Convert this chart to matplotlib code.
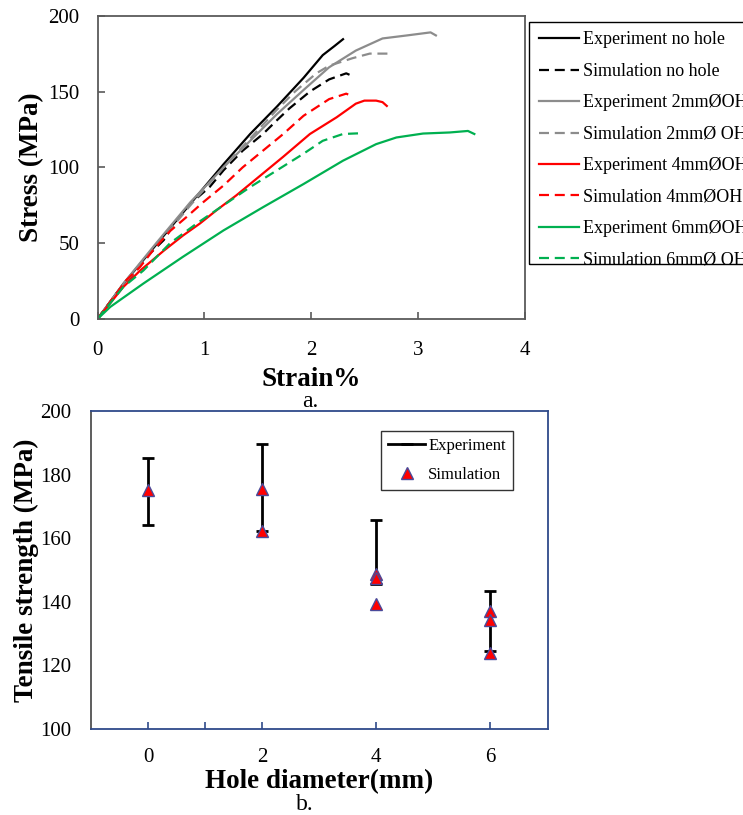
import matplotlib
matplotlib.use("Agg")
import matplotlib.pyplot as plt
from matplotlib.lines import Line2D
from matplotlib.patches import Rectangle

plt.rcParams['font.family'] = ['Liberation Serif', 'DejaVu Serif']

# ---- (a) stress-strain curves ----
exp_nohole_strain = [0, 0.24, 0.55, 0.87, 1.18, 1.43, 1.68, 1.93, 2.11, 2.22, 2.30]
exp_nohole_stress = [0, 23, 49, 76, 102, 122, 140, 159, 174, 180, 184.5]

sim_nohole_strain = [0, 0.18, 0.34, 0.46, 0.62, 0.74, 0.87, 1.05, 1.18, 1.36, 1.55, 1.68, 1.80, 1.99, 2.17, 2.33, 2.41]
sim_nohole_stress = [0, 17, 30, 41, 52, 65, 76, 87, 98, 111, 122, 131, 139, 150, 158, 162, 159.5]

exp_2mm_strain = [0, 0.25, 0.55, 0.87, 1.18, 1.43, 1.68, 1.93, 2.17, 2.42, 2.67, 2.90, 3.12, 3.17]
exp_2mm_stress = [0, 24, 50, 77, 100, 117.5, 135, 151, 166, 177, 185, 187, 189, 187]

sim_2mm_strain = [0, 0.25, 0.55, 0.87, 1.18, 1.43, 1.68, 1.85, 2.05, 2.17, 2.39, 2.55, 2.75]
sim_2mm_stress = [0, 23, 48, 75, 100, 119, 138, 150, 162, 167, 172, 175, 175]

exp_4mm_strain = [0, 0.24, 0.40, 0.62, 0.80, 0.96, 1.12, 1.30, 1.55, 1.74, 1.99, 2.24, 2.42, 2.50, 2.61, 2.67, 2.71]
exp_4mm_stress = [0, 21, 32, 45, 55, 63, 72, 81.5, 96, 107, 122, 133, 142, 144, 144, 143, 140.5]

sim_4mm_strain = [0, 0.27, 0.40, 0.52, 0.68, 0.83, 0.99, 1.18, 1.36, 1.55, 1.74, 1.93, 2.17, 2.33, 2.38]
sim_4mm_stress = [0, 25.6, 34.4, 45.3, 58, 67, 77, 88, 100, 111, 122, 134, 145, 148.6, 147]

exp_6mm_strain = [0, 0.12, 0.43, 0.80, 1.18, 1.55, 1.93, 2.30, 2.61, 2.80, 3.05, 3.30, 3.47, 3.53]
exp_6mm_stress = [0, 8, 23.4, 41, 58.4, 73.7, 89, 104.4, 115.3, 119.7, 122.3, 123, 124, 122]

sim_6mm_strain = [0, 0.24, 0.43, 0.68, 0.93, 1.18, 1.43, 1.68, 1.93, 2.11, 2.30, 2.47]
sim_6mm_stress = [0, 21, 32, 50, 63, 75, 87, 98, 109, 117.5, 122, 122.5]

curve_labels = ["Experiment no hole", "Simulation no hole",
                "Experiment 2mm\u00d8OH", "Simulation 2mm\u00d8 OH",
                "Experiment 4mm\u00d8OH", "Simulation 4mm\u00d8OH",
                "Experiment 6mm\u00d8OH", "Simulation 6mm\u00d8 OH"]

# ---- (b) tensile strength vs hole diameter ----
hole_diameter = [0, 2, 4, 6]
exp_low = [164.1, 162.3, 145.5, 124.5]
exp_high = [185.3, 189.6, 165.7, 143.4]
sim_x = [0, 2, 2, 4, 4, 4, 6, 6, 6]
sim_strength = [175.0, 175.5, 162.3, 148.6, 147.6, 139.2, 137.2, 134.2, 124.0]

W, H = 743, 815
fig = plt.figure(figsize=(W / 100, H / 100), dpi=100)

LABEL_FS = 19.5
TICK_FS = 15

# top panel
ax1 = fig.add_axes([97.5 / W, 1 - 319 / H, (524.5 - 97.5) / W, (319 - 15.7) / H])
lw = 1.6
dash = (0, (4.5, 2.6))
curves = [
    (exp_nohole_strain, exp_nohole_stress, 'black', '-'),
    (sim_nohole_strain, sim_nohole_stress, 'black', dash),
    (exp_2mm_strain, exp_2mm_stress, '#8c8c8c', '-'),
    (sim_2mm_strain, sim_2mm_stress, '#8c8c8c', dash),
    (exp_4mm_strain, exp_4mm_stress, '#ff0000', '-'),
    (sim_4mm_strain, sim_4mm_stress, '#ff0000', dash),
    (exp_6mm_strain, exp_6mm_stress, '#00b050', '-'),
    (sim_6mm_strain, sim_6mm_stress, '#00b050', dash),
]
handles = []
for (xs, ys, c, ls), lab in zip(curves, curve_labels):
    h, = ax1.plot(xs, ys, color=c, linestyle=ls, linewidth=lw, label=lab)
    handles.append(h)

ax1.set_xlim(0, 4)
ax1.set_ylim(0, 200)
ax1.set_xticks([0, 1, 2, 3, 4])
ax1.set_yticks([0, 50, 100, 150, 200])
for s in ax1.spines.values():
    s.set_color('#5a5a5a')
    s.set_linewidth(1.3)
ax1.tick_params(direction='in', length=5, width=1.2, color='#5a5a5a', labelsize=TICK_FS)
ax1.tick_params(axis='x', pad=16)
ax1.tick_params(axis='y', pad=13)
ax1.set_xlabel("Strain%", fontsize=LABEL_FS, fontweight='bold', labelpad=5)
ax1.set_ylabel("Stress (MPa)", fontsize=LABEL_FS, fontweight='bold', labelpad=3)

# legend box for the curves, sitting to the right of the plot
fig.patches.append(Rectangle((529 / W, 1 - 264.3 / H), (760 - 529) / W, (264.3 - 21.7) / H,
                             transform=fig.transFigure, fill=False,
                             edgecolor='black', linewidth=1.0))
leg1 = fig.legend(handles=handles, loc='upper left',
                  bbox_to_anchor=(539 / W, 1 - 31.5 / H), fontsize=13,
                  frameon=False, handlelength=2.2, handletextpad=0.26,
                  labelspacing=0.80, borderpad=0, borderaxespad=0)

fig.text(310 / W, 1 - 401 / H, "a.", fontsize=17, ha='center', va='center')

# bottom panel
ax2 = fig.add_axes([91 / W, 1 - 729 / H, (547.5 - 91) / W, (729 - 411) / H])
for x, lo, hi in zip(hole_diameter, exp_low, exp_high):
    ax2.errorbar([x], [(lo + hi) / 2], yerr=[[(hi - lo) / 2], [(hi - lo) / 2]],
                 fmt='none', ecolor='black', elinewidth=2.0, capsize=4, capthick=2.0)
ax2.plot(sim_x, sim_strength, linestyle='none', marker='^', markersize=8,
         markerfacecolor='#ff0000', markeredgecolor='#4a4a9a', markeredgewidth=1.0)

ax2.set_xlim(-1, 7)
ax2.set_ylim(100, 200)
ax2.set_yticks([100, 120, 140, 160, 180, 200])
ax2.set_xticks([0, 2, 4, 6])
ax2.set_xticks([1], minor=True)
navy = '#2f4a8a'
for k, s in ax2.spines.items():
    s.set_linewidth(1.3)
    s.set_color('#505050' if k == 'left' else navy)
ax2.tick_params(axis='y', length=0, labelsize=TICK_FS, pad=14)
ax2.tick_params(axis='x', which='both', direction='in', length=5, width=1.2,
                color=navy, labelsize=TICK_FS, pad=14)
ax2.set_xlabel("Hole diameter(mm)", fontsize=LABEL_FS, fontweight='bold', labelpad=1)
ax2.set_ylabel("Tensile strength (MPa)", fontsize=LABEL_FS, fontweight='bold', labelpad=1)

exp_handle = Line2D([], [], color='black', linewidth=2.0, marker='_', markersize=8,
                    markeredgewidth=2.0)
sim_handle = Line2D([], [], linestyle='none', marker='^', markersize=8,
                    markerfacecolor='#ff0000', markeredgecolor='#4a4a9a')
leg2 = fig.legend([exp_handle, sim_handle], ["Experiment", "Simulation"],
                  loc='upper right', bbox_to_anchor=(513.3 / W, 1 - 430.7 / H),
                  fontsize=12, frameon=True, fancybox=False, edgecolor='black',
                  handlelength=2.2, handletextpad=0.2, labelspacing=0.75,
                  borderpad=0.45, borderaxespad=0)
leg2.get_frame().set_linewidth(1.0)

fig.text(305 / W, 1 - 805 / H, "b.", fontsize=17, ha='center', va='center')

fig.savefig("out.png", dpi=100)
